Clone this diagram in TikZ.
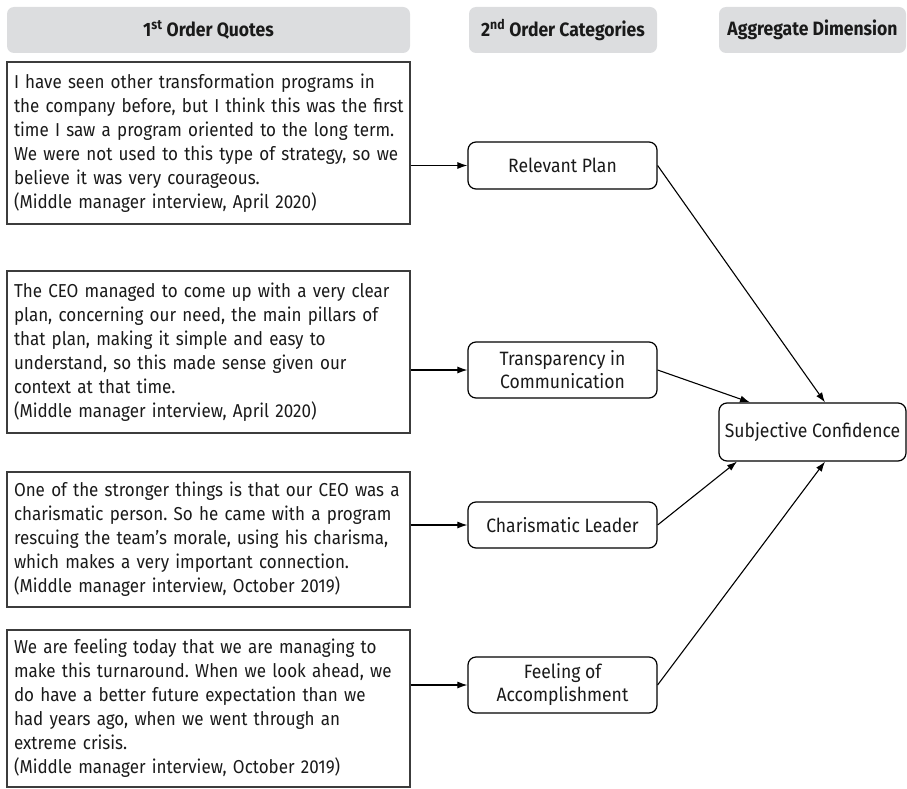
\documentclass[tikz,border=0pt]{standalone}
\usepackage{fontspec}
\setmainfont[FakeStretch=0.91]{Fira Sans}
\usetikzlibrary{arrows.meta}
\definecolor{headgray}{HTML}{DCDDDF}
\definecolor{inkgray}{HTML}{1A1A1A}
\definecolor{framegray}{HTML}{3C3C3C}
% one unbreakable line of a quote
\newcommand\qln[1]{\mbox{#1}}
\tikzset{
  headbox/.style={fill=headgray, rounded corners=7pt, minimum height=46pt,
    font=\bfseries\fontsize{19.3}{22}\selectfont, text=inkgray, inner sep=0pt},
  quotebox/.style={draw=framegray, line width=1.3pt, minimum width=403pt,
    text width=389pt, inner xsep=7pt, inner ysep=0pt, align=left,
    font=\fontsize{18.7}{24}\selectfont, text=inkgray},
  catbox/.style={draw=black, line width=1.2pt, rounded corners=8pt,
    minimum width=189pt, align=center, inner sep=0pt,
    font=\fontsize{19.3}{23}\selectfont, text=inkgray},
  link/.style={line width=1.1pt, -{Latex[length=10pt,width=7pt]}}
}
\begin{document}
\frenchspacing
\begin{tikzpicture}[x=1pt,y=-1pt]
\useasboundingbox (0,0) rectangle (907,789);

% column headings
\node[headbox, minimum width=403pt] (h1) at (208.5,30) {1\textsuperscript{st} Order Quotes};
\node[headbox, minimum width=188pt] (h2) at (563,30) {2\textsuperscript{nd} Order Categories};
\node[headbox, minimum width=187pt] (h3) at (812.5,30) {Aggregate Dimension};

% first-order quotes
\node[quotebox, minimum height=162pt] (q1) at (208.5,143) {\qln{I have seen other transformation programs in}\\
\qln{the company before, but I think this was the first}\\
\qln{time I saw a program oriented to the long term.}\\
\qln{We were not used to this type of strategy, so we}\\
\qln{believe it was very courageous.}\\
\qln{(Middle manager interview, April 2020)}};

\node[quotebox, minimum height=162pt] (q2) at (208.5,352) {\qln{The CEO managed to come up with a very clear}\\
\qln{plan, concerning our need, the main pillars of}\\
\qln{that plan, making it simple and easy to}\\
\qln{understand, so this made sense given our}\\
\qln{context at that time.}\\
\qln{(Middle manager interview, April 2020)}};

\node[quotebox, minimum height=135pt] (q3) at (208.5,539.5) {\qln{One of the stronger things is that our CEO was a}\\
\qln{charismatic person. So he came with a program}\\
\qln{rescuing the team’s morale, using his charisma,}\\
\qln{which makes a very important connection.}\\
\qln{(Middle manager interview, October 2019)}};

\node[quotebox, minimum height=157pt] (q4) at (208.5,708.5) {\qln{We are feeling today that we are managing to}\\
\qln{make this turnaround. When we look ahead, we}\\
\qln{do have a better future expectation than we}\\
\qln{had years ago, when we went through an}\\
\qln{extreme crisis.}\\
\qln{(Middle manager interview, October 2019)}};

% second-order categories
\node[catbox, minimum height=47pt] (c1) at (562.5,165.5) {Relevant Plan};
\node[catbox, minimum height=56pt] (c2) at (562.5,370) {Transparency in\\Communication};
\node[catbox, minimum height=46pt] (c3) at (562.5,525) {Charismatic Leader};
\node[catbox, minimum height=56pt] (c4) at (562.5,685) {Feeling of\\Accomplishment};

% aggregate dimension
\node[catbox, minimum width=187pt, minimum height=58pt] (agg) at (812.5,432) {Subjective Confidence};

% quotes to categories
\draw[link] (q1.east |- c1.west) -- (c1.west);
\draw[link] (q2.east |- c2.west) -- (c2.west);
\draw[link] (q3.east |- c3.west) -- (c3.west);
\draw[link] (q4.east |- c4.west) -- (c4.west);

% categories to aggregate dimension
\draw[link] (c1.east) -- ([xshift=12.5pt]agg.north);
\draw[link] (c2.east) -- ([xshift=-62.5pt]agg.north);
\draw[link] (c3.east) -- ([xshift=-75.5pt]agg.south);
\draw[link] (c4.east) -- ([xshift=12.5pt]agg.south);
\end{tikzpicture}
\end{document}
